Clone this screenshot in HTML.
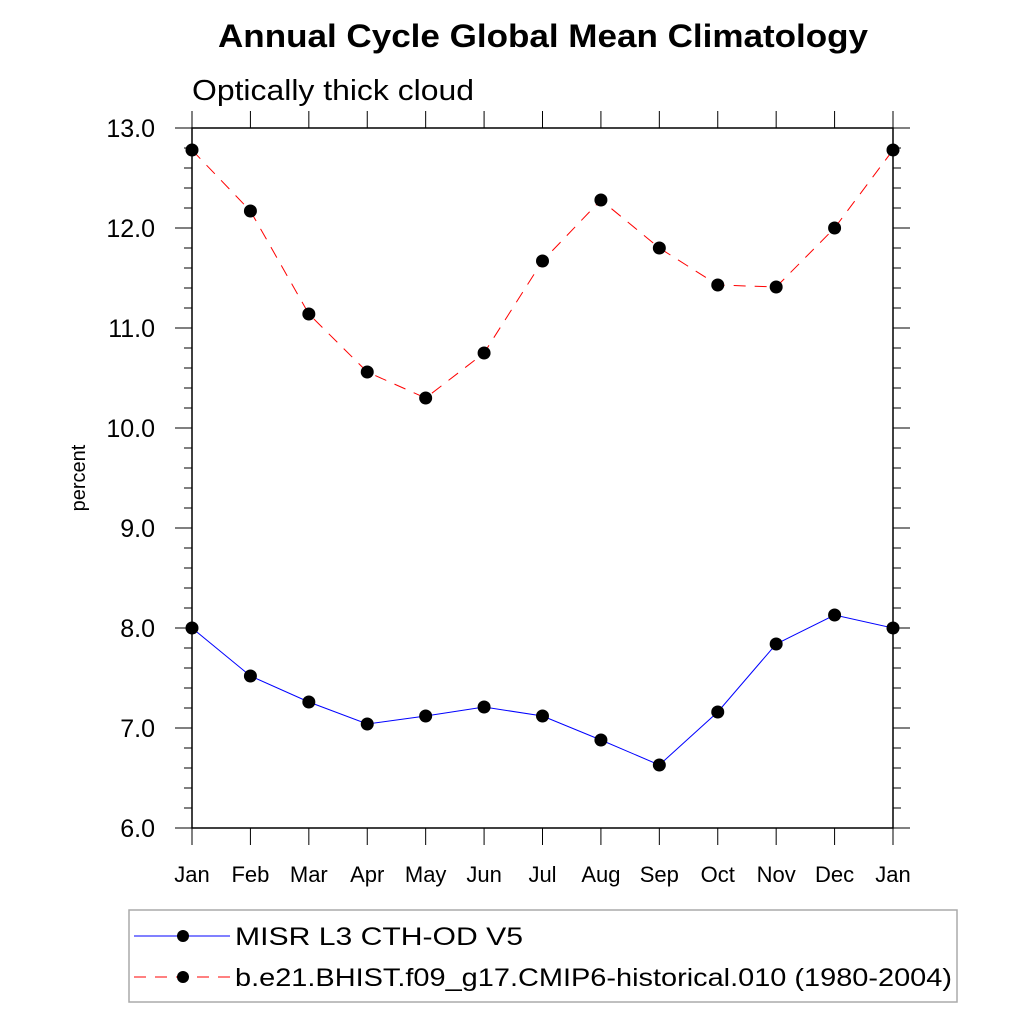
<!DOCTYPE html>
<html><head><meta charset="utf-8"><style>html,body{margin:0;padding:0;background:#fff}svg{display:block;font-family:"Liberation Sans",sans-serif}</style></head>
<body>
<svg id="chart" width="1024" height="1024" viewBox="0 0 1024 1024" xmlns="http://www.w3.org/2000/svg">
<text x="543" y="47" text-anchor="middle" font-size="32" font-weight="bold" textLength="650" lengthAdjust="spacingAndGlyphs">Annual Cycle Global Mean Climatology</text>
<text x="192" y="100" font-size="29" textLength="282" lengthAdjust="spacingAndGlyphs">Optically thick cloud</text>
<text transform="translate(85,478) rotate(-90)" text-anchor="middle" font-size="20">percent</text>
<rect x="192" y="128" width="701" height="700" fill="none" stroke="#000" stroke-width="1.5"/>
<g id="axes"></g>
<g id="series"></g>
<g>
<rect x="129" y="910" width="828" height="92" fill="none" stroke="#aaa" stroke-width="1.5"/>
<g>
<line x1="134" y1="936" x2="230" y2="936" stroke="#00f" stroke-width="1"/>
<circle cx="183" cy="936" r="6" fill="#000"/>
<text x="235" y="945" font-size="25" textLength="288" lengthAdjust="spacingAndGlyphs">MISR L3 CTH-OD V5</text>
</g>
<g>
<line x1="134" y1="977" x2="230" y2="977" stroke="#f00" stroke-width="1" stroke-dasharray="12,9"/>
<circle cx="183" cy="977" r="6" fill="#000"/>
<text x="235" y="986" font-size="25" textLength="717" lengthAdjust="spacingAndGlyphs">b.e21.BHIST.f09_g17.CMIP6-historical.010 (1980-2004)</text>
</g>
</g>
</svg>
<script>
const months = ["Jan","Feb","Mar","Apr","May","Jun","Jul","Aug","Sep","Oct","Nov","Dec","Jan"];
const misrValues = [8.00,7.52,7.26,7.04,7.12,7.21,7.12,6.88,6.63,7.16,7.84,8.13,8.00];
const modelValues = [12.78,12.17,11.14,10.56,10.30,10.75,11.67,12.28,11.80,11.43,11.41,12.00,12.78];
const yTicks = [6,7,8,9,10,11,12,13];
const yTickLabels = ["6.0","7.0","8.0","9.0","10.0","11.0","12.0","13.0"];

const NS="http://www.w3.org/2000/svg";
const X0=192,X1=893,Y0=828,Y1=128,YMIN=6,YMAX=13;
function xs(i){return X0+(X1-X0)*i/(months.length-1);}
function ys(v){return Y0-(v-YMIN)/(YMAX-YMIN)*(Y0-Y1);}
function mk(t,a,p){const e=document.createElementNS(NS,t);for(const k in a)e.setAttribute(k,a[k]);p.appendChild(e);return e;}
const axes=document.getElementById('axes');
months.forEach((m,i)=>{
  const x=xs(i);
  const tb=mk('line',{x1:x,y1:Y0,x2:x,y2:Y0+17,stroke:'#000','stroke-width':1},axes);
  
  
  const tt=mk('line',{x1:x,y1:Y1,x2:x,y2:Y1-17,stroke:'#000','stroke-width':1},axes);
  
  
  const l=mk('text',{x:x,y:882,'text-anchor':'middle','font-size':22},axes);
  l.textContent=m;
  
  
});
for(let v=YMIN;v<=YMAX+1e-9;v+=0.2){
  const y=ys(v);const major=Math.abs(v-Math.round(v))<1e-6;const len=major?17:8;
  const a=mk('line',{x1:X0,y1:y,x2:X0-len,y2:y,stroke:'#000','stroke-width':1},axes);
  
  
  const b=mk('line',{x1:X1,y1:y,x2:X1+len,y2:y,stroke:'#000','stroke-width':1},axes);
  
  
}
yTicks.forEach((v,i)=>{
  const t=mk('text',{x:155,y:ys(v)+9,'text-anchor':'end','font-size':25},axes);
  t.textContent=yTickLabels[i];
  
  
});
const series=document.getElementById('series');
function drawSeries(vals,color,dash,name){
  const g=mk('g',{},series);
  
  
  const pts=vals.map((v,i)=>xs(i)+','+ys(v)).join(' ');
  const pl=mk('polyline',{points:pts,fill:'none',stroke:color,'stroke-width':1,'stroke-dasharray':dash},g);
  
  
  vals.forEach((v,i)=>{
    const c=mk('circle',{cx:xs(i),cy:ys(v),r:6.5,fill:'#000'},g);
    
    
  });
}
drawSeries(modelValues,'#f00','12,9','model-series');
drawSeries(misrValues,'#00f','none','misr-series');
</script>
</body></html>
